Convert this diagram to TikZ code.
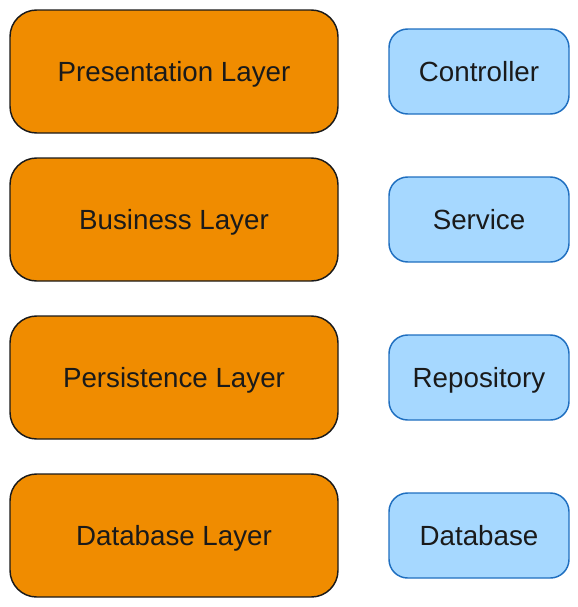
\documentclass[tikz,border=0pt]{standalone}
\usepackage{fontspec}
\setmainfont{Liberation Sans}
\usepackage{tikz}
\usetikzlibrary{shapes,arrows}

\definecolor{layerfill}{RGB}{240,140,0}
\definecolor{partfill}{RGB}{166,216,255}
\definecolor{partline}{RGB}{31,111,192}
\definecolor{inkgrey}{RGB}{26,26,26}

\begin{document}
\begin{tikzpicture}[x=0.75pt,y=0.75pt,yscale=-1,xscale=1,
    layer/.style={draw=inkgrey,fill=layerfill,line width=1.1pt,rounded corners=20pt,minimum width=246pt,minimum height=92.25pt,text=inkgrey,text height=15pt,text depth=0pt,font=\fontsize{20.8}{24}\selectfont},
    part/.style={draw=partline,fill=partfill,line width=1.1pt,rounded corners=14pt,minimum width=135pt,minimum height=63.75pt,text=inkgrey,text height=15pt,text depth=0pt,font=\fontsize{20.8}{24}\selectfont}]
    %set diagram size 578 x 607
    \useasboundingbox (0,0) rectangle (578,607);

    % Layer Nodes
    \draw (174,71.5) node [layer] (presentation) {Presentation Layer};
    \draw (174,219.5) node [layer] (business) {Business Layer};
    \draw (174,377.5) node [layer] (persistence) {Persistence Layer};
    \draw (174,535.5) node [layer] (databaselayer) {Database Layer};

    % Part Nodes
    \draw (479,71.5) node [part] (controller) {Controller};
    \draw (479,219.5) node [part] (service) {Service};
    \draw (479,377.5) node [part] (repository) {Repository};
    \draw (479,535.5) node [part] (database) {Database};

\end{tikzpicture}
\end{document}
